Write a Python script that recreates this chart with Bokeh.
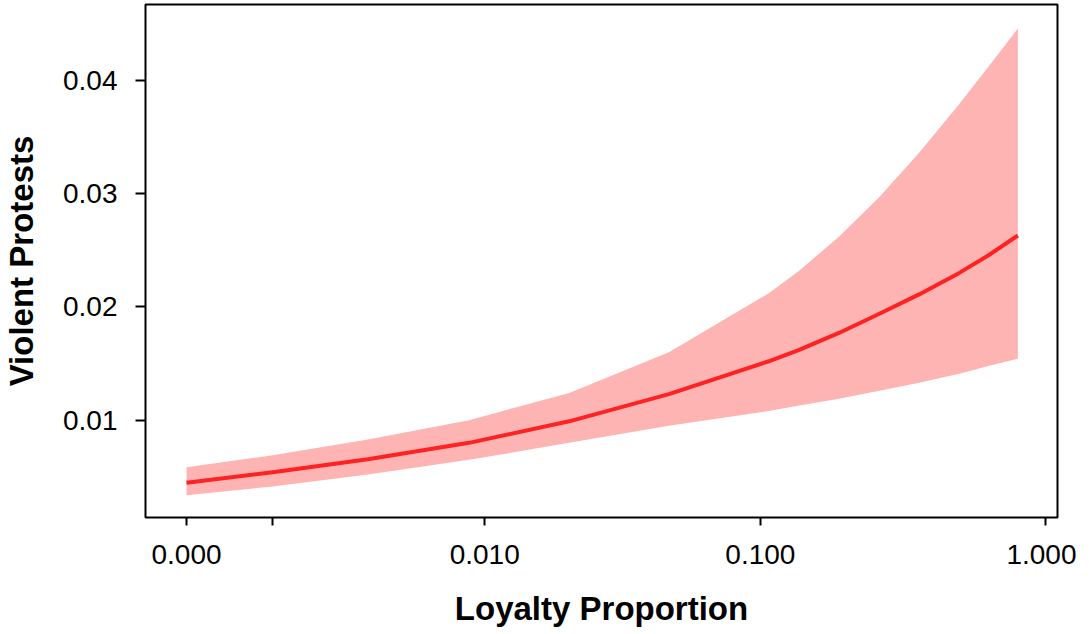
from bokeh.plotting import figure
from bokeh.models import Range1d, FixedTicker, CustomJSTickFormatter, ColumnDataSource
from bokeh.embed import file_html
from bokeh.resources import INLINE

# ---- data ----
loyalty = [0.0, 0.001, 0.0033, 0.0087, 0.0207, 0.0474, 0.107, 0.137, 0.189, 0.262, 0.361, 0.499, 0.636, 0.8]
fit = [0.00447, 0.0054, 0.00655, 0.0080, 0.0099, 0.0123, 0.0152, 0.0162, 0.0177, 0.0194, 0.0211, 0.0230, 0.0246, 0.0263]
lower = [0.00338, 0.00415, 0.0052, 0.0065, 0.0080, 0.0095, 0.0108, 0.0113, 0.0119, 0.0126, 0.0133, 0.0141, 0.0148, 0.01542]
upper = [0.00585, 0.0069, 0.0083, 0.0100, 0.0124, 0.0160, 0.0212, 0.0232, 0.0262, 0.0297, 0.0336, 0.0379, 0.0413, 0.04457]

x_ticks = [0.0, 0.001, 0.01, 0.1, 1.0]
x_tick_labels = ["0.000", "", "0.010", "0.100", "1.000"]
y_ticks = [0.01, 0.02, 0.03, 0.04]
y_tick_labels = ["0.01", "0.02", "0.03", "0.04"]

OFFSET = 0.001  # axis is log10(x + 0.001)

FONT = "Liberation Sans"

src = ColumnDataSource(dict(
    x=[v + OFFSET for v in loyalty],
    fit=fit, lower=lower, upper=upper,
))

p = figure(
    width=1076, height=629,
    x_axis_type="log",
    x_range=Range1d(0.000719, 1.1015),
    y_range=Range1d(0.00141, 0.04669),
    output_backend="svg", toolbar_location=None,
    min_border_left=143, min_border_right=19,
    min_border_top=4, min_border_bottom=101,
)
p.background_fill_color = "white"
p.border_fill_color = "white"
p.outline_line_color = "black"
p.outline_line_width = 2
p.grid.visible = False

p.varea(x="x", y1="lower", y2="upper", source=src, fill_color="#FFB4B4", fill_alpha=1.0)
p.line(x="x", y="fit", source=src, line_color="#FF2222", line_width=4, line_join="round")

# x axis
xt = [t + OFFSET for t in x_ticks]
p.xaxis.ticker = FixedTicker(ticks=xt, minor_ticks=[])
p.xaxis.formatter = CustomJSTickFormatter(args=dict(vals=xt, labels=x_tick_labels), code="""
    for (let i = 0; i < vals.length; i++) {
        if (Math.abs(vals[i] - tick) < 1e-9) { return labels[i]; }
    }
    return "";
""")
p.xaxis.axis_label = "Loyalty Proportion"

# y axis
p.yaxis.ticker = FixedTicker(ticks=y_ticks, minor_ticks=[])
p.yaxis.major_label_overrides = {t: l for t, l in zip(y_ticks, y_tick_labels)}
p.yaxis.axis_label = "Violent Protests"

for ax in (p.xaxis[0], p.yaxis[0]):
    ax.axis_line_color = None
    ax.major_tick_in = 0
    ax.minor_tick_line_color = None
    ax.major_tick_line_color = "black"
    ax.major_tick_line_width = 2
    ax.major_label_text_font = FONT
    ax.major_label_text_font_size = "28px"
    ax.major_label_text_color = "black"
    ax.axis_label_text_font = FONT
    ax.axis_label_text_font_size = "33px"
    ax.axis_label_text_font_style = "bold"
    ax.axis_label_text_color = "black"

p.xaxis.major_tick_out = 8
p.xaxis.major_label_standoff = 19
p.xaxis.axis_label_standoff = 23
p.yaxis.major_tick_out = 10
p.yaxis.major_label_standoff = 18
p.yaxis.axis_label_standoff = 20

open("out.html", "w").write(file_html(p, INLINE))
